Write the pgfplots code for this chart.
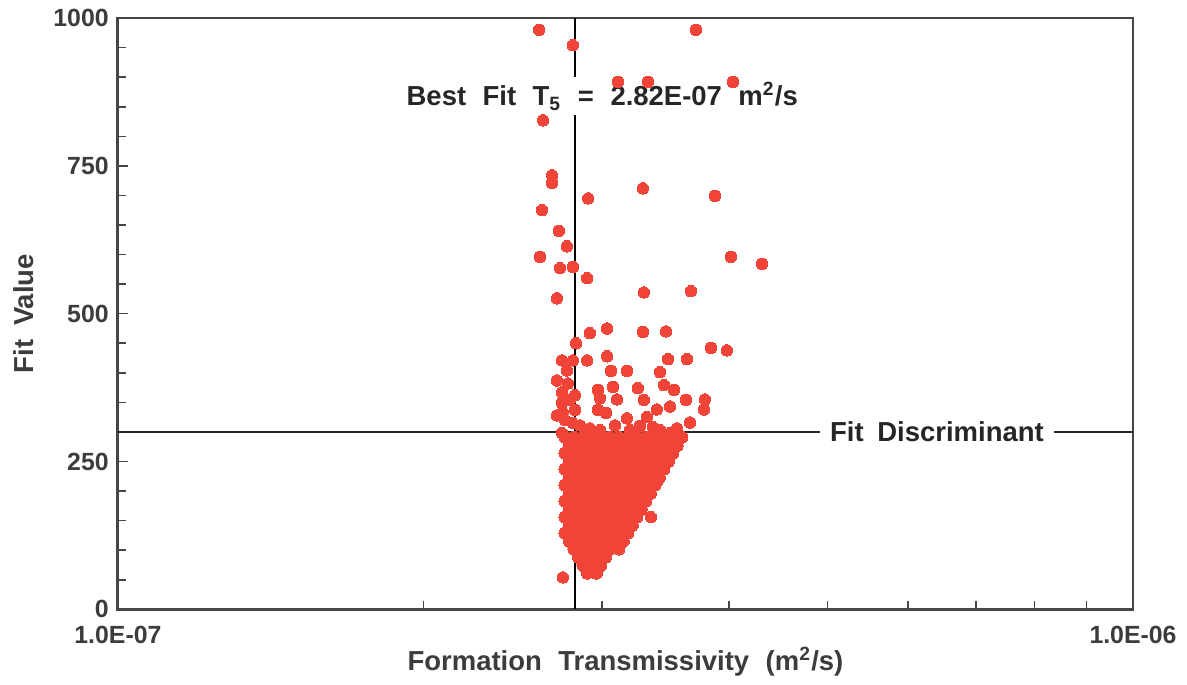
\documentclass[border=0pt]{standalone}
\usepackage{pgfplots}
\pgfplotsset{compat=1.18}
\usepackage{pgfplotstable}
\usepackage{fontspec}
\setmainfont{Liberation Sans}
\definecolor{dotred}{RGB}{240,68,56}
\definecolor{txtgray}{RGB}{60,60,60}
\definecolor{framegray}{RGB}{70,70,70}

\pgfplotstableread{
x y
2.60e-7 980
2.807e-7 954
3.711e-7 980
3.109e-7 892
3.328e-7 892
4.036e-7 892
2.623e-7 827
2.677e-7 734
2.677e-7 721
2.906e-7 695
3.290e-7 712
3.875e-7 699
2.617e-7 675
2.719e-7 640
2.769e-7 614
2.605e-7 596
2.726e-7 577
2.807e-7 579
2.899e-7 560
2.707e-7 526
3.297e-7 536
3.669e-7 538
4.017e-7 596
4.310e-7 584
3.033e-7 475
2.917e-7 467
3.290e-7 469
3.467e-7 470
2.827e-7 450
3.839e-7 442
3.981e-7 438
2.738e-7 421
2.807e-7 421
2.899e-7 421
3.033e-7 428
3.483e-7 423
3.636e-7 423
2.769e-7 404
3.060e-7 403
3.173e-7 403
3.420e-7 401
2.775e-7 382
2.971e-7 371
3.074e-7 376
3.253e-7 374
3.451e-7 379
3.531e-7 371
2.788e-7 354
2.985e-7 357
3.102e-7 355
3.297e-7 354
3.628e-7 354
3.787e-7 355
3.499e-7 343
3.779e-7 338
2.744e-7 333
2.971e-7 337
3.026e-7 332
3.396e-7 338
3.173e-7 323
3.320e-7 325
3.661e-7 316
2.807e-7 315
3.555e-7 306
3.366e-7 308
2.738e-7 298
2.738e-7 367
2.820e-7 362
2.738e-7 349
2.820e-7 337
2.757e-7 320
2.853e-7 311
2.917e-7 306
2.985e-7 303
3.088e-7 311
3.195e-7 303
3.268e-7 310
3.420e-7 303
3.499e-7 298
2.707e-7 387
2.707e-7 328
2.744e-7 54
3.350e-7 156
3.404e-7 218
3.555e-7 281
}\outliers

\pgfplotstableread{
x y
2.757e-7 291
2.814e-7 291
2.872e-7 291
2.931e-7 291
2.991e-7 291
3.053e-7 291
3.116e-7 291
3.180e-7 291
3.245e-7 291
3.312e-7 291
3.381e-7 291
3.451e-7 291
3.522e-7 291
3.595e-7 291
2.785e-7 277
2.842e-7 277
2.901e-7 277
2.961e-7 277
3.022e-7 277
3.084e-7 277
3.147e-7 277
3.212e-7 277
3.278e-7 277
3.346e-7 277
3.415e-7 277
3.486e-7 277
3.557e-7 277
2.757e-7 264
2.814e-7 264
2.872e-7 264
2.931e-7 264
2.991e-7 264
3.053e-7 264
3.116e-7 264
3.180e-7 264
3.245e-7 264
3.312e-7 264
3.381e-7 264
3.451e-7 264
3.522e-7 264
2.785e-7 250
2.842e-7 250
2.901e-7 250
2.961e-7 250
3.022e-7 250
3.084e-7 250
3.147e-7 250
3.212e-7 250
3.278e-7 250
3.346e-7 250
3.415e-7 250
3.486e-7 250
2.757e-7 237
2.814e-7 237
2.872e-7 237
2.931e-7 237
2.991e-7 237
3.053e-7 237
3.116e-7 237
3.180e-7 237
3.245e-7 237
3.312e-7 237
3.381e-7 237
3.451e-7 237
2.785e-7 223
2.842e-7 223
2.901e-7 223
2.961e-7 223
3.022e-7 223
3.084e-7 223
3.147e-7 223
3.212e-7 223
3.278e-7 223
3.346e-7 223
3.415e-7 223
2.757e-7 210
2.814e-7 210
2.872e-7 210
2.931e-7 210
2.991e-7 210
3.053e-7 210
3.116e-7 210
3.180e-7 210
3.245e-7 210
3.312e-7 210
3.381e-7 210
2.785e-7 196
2.842e-7 196
2.901e-7 196
2.961e-7 196
3.022e-7 196
3.084e-7 196
3.147e-7 196
3.212e-7 196
3.278e-7 196
3.346e-7 196
2.757e-7 183
2.814e-7 183
2.872e-7 183
2.931e-7 183
2.991e-7 183
3.053e-7 183
3.116e-7 183
3.180e-7 183
3.245e-7 183
3.312e-7 183
2.785e-7 169
2.842e-7 169
2.901e-7 169
2.961e-7 169
3.022e-7 169
3.084e-7 169
3.147e-7 169
3.212e-7 169
3.278e-7 169
2.757e-7 156
2.814e-7 156
2.872e-7 156
2.931e-7 156
2.991e-7 156
3.053e-7 156
3.116e-7 156
3.180e-7 156
3.245e-7 156
2.785e-7 142
2.842e-7 142
2.901e-7 142
2.961e-7 142
3.022e-7 142
3.084e-7 142
3.147e-7 142
3.212e-7 142
2.757e-7 129
2.814e-7 129
2.872e-7 129
2.931e-7 129
2.991e-7 129
3.053e-7 129
3.116e-7 129
3.180e-7 129
2.785e-7 115
2.842e-7 115
2.901e-7 115
2.961e-7 115
3.022e-7 115
3.084e-7 115
3.147e-7 115
2.814e-7 102
2.872e-7 102
2.931e-7 102
2.991e-7 102
3.053e-7 102
3.116e-7 102
2.842e-7 88
2.901e-7 88
2.961e-7 88
3.022e-7 88
2.872e-7 74
2.931e-7 74
2.991e-7 74
2.901e-7 61
2.961e-7 61
}\cloud

\begin{document}
\begin{tikzpicture}
\begin{axis}[
  scale only axis,
  width=388pt, height=226pt,
  xmode=log,
  xmin=1e-7, xmax=1e-6,
  ymin=0, ymax=1000,
  xtick={1e-7,1e-6},
  xticklabels={1.0E-07,1.0E-06},
  minor xtick={2e-7,3e-7,4e-7,5e-7,6e-7,7e-7,8e-7,9e-7},
  ytick={0,250,500,750,1000},
  minor y tick num=4,
  tick align=inside,
  xtick pos=bottom, ytick pos=left,
  major tick length=4pt, minor tick length=3pt,
  every tick/.style={framegray, line width=0.6pt},
  axis line style={framegray, line width=1.1pt},
  /pgf/number format/assume math mode=true,
  /pgf/number format/1000 sep={},
  tick label style={font=\bfseries\fontsize{9.5}{11}\selectfont, text=txtgray},
  xticklabel style={yshift=-3pt},
  xlabel={Formation\hspace{0.6em}Transmissivity\hspace{0.6em}(m\textsuperscript{2}/s)},
  ylabel={Fit\hspace{0.5em}Value},
  every axis x label/.style={at={(axis description cs:0.5,-0.088)}, anchor=center,
    font=\bfseries\fontsize{10.5}{12}\selectfont, text=txtgray},
  every axis y label/.style={at={(axis description cs:-0.093,0.5)}, anchor=center, rotate=90,
    font=\bfseries\fontsize{10.5}{12}\selectfont, text=txtgray},
  clip=false,
]
\addplot[only marks, color=dotred, mark=*, mark size=2.3pt, mark options={draw=dotred, fill=dotred, line width=0pt}] table {\cloud};
\addplot[only marks, color=dotred, mark=*, mark size=2.2pt, mark options={draw=dotred, fill=dotred, line width=0pt}] table {\outliers};
\addplot[black, line width=1pt] coordinates {(2.82e-7,0) (2.82e-7,1000)};
\addplot[black!85, line width=1pt] coordinates {(1e-7,300) (1e-6,300)};
\node[fill=white, inner xsep=3pt, inner ysep=2pt, text=black!85, font=\bfseries\fontsize{10.5}{12}\selectfont]
  at (axis cs:3.0e-7,868) {Best\hspace{0.6em}Fit\hspace{0.6em}T$_{\mathbf 5}$\hspace{0.6em}=\hspace{0.6em}2.82E-07\hspace{0.6em}m\textsuperscript{2}/s};
\node[fill=white, inner xsep=4pt, inner ysep=2pt, text=black!85, font=\bfseries\fontsize{10.5}{12}\selectfont]
  at (axis cs:6.41e-7,300) {Fit\hspace{0.5em}Discriminant};
\end{axis}
\path ([shift={(-45.1pt,-28.3pt)}]current axis.south west) rectangle ([shift={(20.6pt,6.9pt)}]current axis.north east);
\end{tikzpicture}
\end{document}
